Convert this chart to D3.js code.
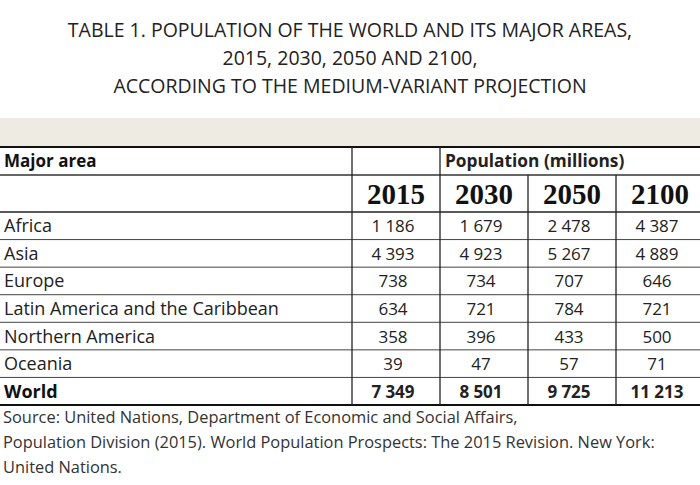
<!DOCTYPE html>
<html>
<head>
<meta charset="utf-8">
<script src="https://cdn.jsdelivr.net/npm/d3@7"></script>
<style>
  html, body { margin: 0; padding: 0; background: #fff; }
  svg { display: block; }
</style>
</head>
<body>
<script>
const titleLines = [
    "TABLE 1. POPULATION OF THE WORLD AND ITS MAJOR AREAS,",
    "2015, 2030, 2050 AND 2100,",
    "ACCORDING TO THE MEDIUM-VARIANT PROJECTION"
];
const years = ["2015", "2030", "2050", "2100"];
const areas = ["Africa", "Asia", "Europe", "Latin America and the Caribbean",
               "Northern America", "Oceania", "World"];
const pop2015 = [1186, 4393, 738, 634, 358, 39, 7349];
const pop2030 = [1679, 4923, 734, 721, 396, 47, 8501];
const pop2050 = [2478, 5267, 707, 784, 433, 57, 9725];
const pop2100 = [4387, 4889, 646, 721, 500, 71, 11213];
const sourceLines = [
    "Source: United Nations, Department of Economic and Social Affairs,",
    "Population Division (2015). World Population Prospects: The 2015 Revision. New York:",
    "United Nations."
];

const W = 700, H = 485;
const sans = "'Open Sans', sans-serif";
const fmt = d3.formatLocale({ decimal: ".", thousands: "\u2005", grouping: [3], currency: ["", ""] }).format(",d");

const byYear = { "2015": pop2015, "2030": pop2030, "2050": pop2050, "2100": pop2100 };

const svg = d3.select("body").append("svg")
    .attr("width", W)
    .attr("height", H);

// title
svg.append("g").selectAll("text")
    .data(titleLines)
    .enter().append("text")
    .attr("x", W / 2)
    .attr("y", (d, i) => 37 + i * 28)
    .attr("text-anchor", "middle")
    .attr("font-family", sans)
    .attr("font-size", 19.5)
    .attr("fill", "#222")
    .text(d => d);

// beige band above the table
svg.append("rect")
    .attr("x", 0).attr("y", 118)
    .attr("width", W).attr("height", 29)
    .attr("fill", "#eeebe3");

const tableTop = 147, head1 = 175, head2 = 212, tableBottom = 405;

const x = d3.scaleBand().domain(years).range([352, 704]);
const y = d3.scaleBand().domain(areas).range([head2, tableBottom]);

const grid = svg.append("g");

// horizontal rules
const rules = [
    { y: tableTop, w: 2, c: "#111" },
    { y: head1, w: 1.3, c: "#333" },
    { y: head2, w: 1.3, c: "#222" }
].concat(areas.slice(1).map(a => ({ y: y(a), w: 1, c: "#444" })))
 .concat([{ y: tableBottom, w: 2.2, c: "#111" }]);

grid.selectAll("line.h")
    .data(rules)
    .enter().append("line")
    .attr("class", "h")
    .attr("x1", 0).attr("x2", W)
    .attr("y1", d => d.y).attr("y2", d => d.y)
    .attr("stroke", d => d.c)
    .attr("stroke-width", d => d.w);

// vertical rules: first two go through the header, the rest start at the year row
const vlines = years.map((yr, i) => ({ x: x(yr), top: i < 2 ? tableTop : head1 }));
grid.selectAll("line.v")
    .data(vlines)
    .enter().append("line")
    .attr("class", "v")
    .attr("x1", d => d.x).attr("x2", d => d.x)
    .attr("y1", d => d.top).attr("y2", tableBottom)
    .attr("stroke", "#222")
    .attr("stroke-width", 1.3);

// header texts
svg.append("text")
    .attr("x", 4).attr("y", (tableTop + head1) / 2 + 6)
    .attr("font-family", sans).attr("font-size", 17).attr("font-weight", "bold")
    .attr("fill", "#111")
    .text("Major area");

svg.append("text")
    .attr("x", x("2030") + 5).attr("y", (tableTop + head1) / 2 + 6)
    .attr("font-family", sans).attr("font-size", 17.3).attr("font-weight", "bold")
    .attr("fill", "#222")
    .text("Population (millions)");

svg.append("g").selectAll("text")
    .data(years)
    .enter().append("text")
    .attr("x", d => x(d) + x.bandwidth() / 2)
    .attr("y", (head1 + head2) / 2 + 10)
    .attr("text-anchor", "middle")
    .attr("font-family", "'Liberation Serif', serif")
    .attr("font-size", 29).attr("font-weight", "bold")
    .attr("fill", "#111")
    .text(d => d);

// rows
const rows = svg.append("g").selectAll("g")
    .data(areas)
    .enter().append("g")
    .attr("transform", d => `translate(0,${y(d) + y.bandwidth() / 2 + 6.5})`);

rows.append("text")
    .attr("x", 4)
    .attr("font-family", sans).attr("font-size", 18)
    .attr("font-weight", d => d === "World" ? "bold" : "normal")
    .attr("fill", d => d === "World" ? "#111" : "#222")
    .text(d => d);

rows.selectAll("text.v")
    .data((d, i) => years.map(yr => ({ yr, v: byYear[yr][i], bold: d === "World" })))
    .enter().append("text")
    .attr("class", "v")
    .attr("x", d => x(d.yr) + x.bandwidth() / 2 - 3)
    .attr("text-anchor", "middle")
    .attr("font-family", sans).attr("font-size", 17)
    .attr("font-weight", d => d.bold ? "bold" : "normal")
    .attr("fill", "#222")
    .text(d => fmt(d.v));

// source note
svg.append("g").selectAll("text")
    .data(sourceLines)
    .enter().append("text")
    .attr("x", 3)
    .attr("y", (d, i) => 423 + i * 25)
    .attr("font-family", sans).attr("font-size", 16.4)
    .attr("fill", "#333")
    .text(d => d);
</script>
</body>
</html>
